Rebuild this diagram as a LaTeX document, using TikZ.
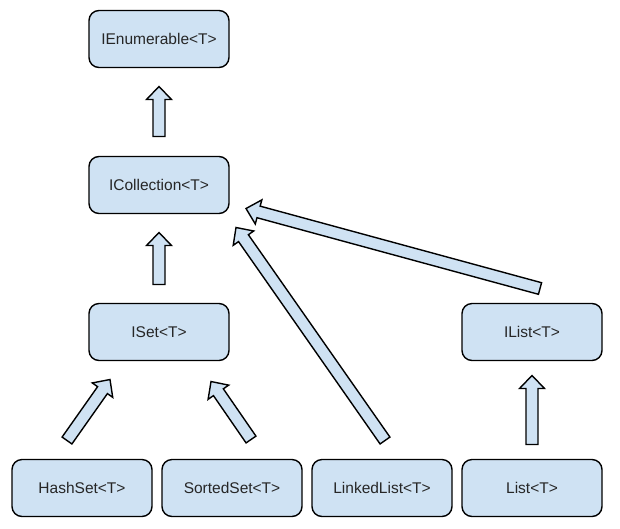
\documentclass[tikz,border=0pt]{standalone}
\usepackage{fontspec}
\setmainfont{Liberation Sans}
\usetikzlibrary{positioning, calc}

\definecolor{boxblue}{HTML}{CFE2F3}

% hollow block arrow from #1 to #2 (named coordinates)
\newcommand{\inheritarrow}[2]{%
  \path let \p1=($(#2)-(#1)$) in
    \pgfextra{\pgfmathsetmacro\arrang{atan2(\y1,\x1)}%
              \pgfmathsetmacro\arrlen{veclen(\x1,\y1)}%
              \global\let\arrang\arrang \global\let\arrlen\arrlen};
  \draw[arr, shift={(#1)}, rotate=\arrang]
    (0pt,-6pt) -- ({\arrlen pt-13pt},-6pt) -- ({\arrlen pt-13pt},-12.5pt)
    -- ({\arrlen pt},0pt) -- ({\arrlen pt-13pt},12.5pt) -- ({\arrlen pt-13pt},6pt)
    -- (0pt,6pt) -- cycle;
}

\begin{document}
\begin{tikzpicture}[
  font=\fontsize{15.5}{18}\selectfont,
  cls/.style={draw=black, line width=1.4pt, rounded corners=10pt, fill=boxblue, text=black!85,
    minimum width=140pt, minimum height=57pt, inner sep=0pt, outer sep=0pt},
  arr/.style={draw=black, line width=1.4pt, fill=boxblue, line join=miter},
]
\useasboundingbox (0pt,0pt) rectangle (620pt,-528pt);
\node[cls] (ienum) at (159pt,-39pt) {IEnumerable<T>};
\node[cls, below=89pt of ienum] (icoll) {ICollection<T>};
\node[cls, below=90pt of icoll] (iset) {ISet<T>};
\node[cls, below=99pt of iset, xshift=-77pt] (hashset) {HashSet<T>};
\node[cls, right=10pt of hashset] (sortedset) {SortedSet<T>};
\node[cls, right=10pt of sortedset] (linkedlist) {LinkedList<T>};
\node[cls, right=10pt of linkedlist] (list) {List<T>};
\node[cls, above=99pt of list] (ilist) {IList<T>};

% arrow ends, kept clear of the boxes
\coordinate (a1) at ($(icoll.north)+(0pt,20pt)$);
\coordinate (b1) at ($(ienum.south)+(0pt,-19pt)$);
\coordinate (a2) at ($(iset.north)+(0pt,19pt)$);
\coordinate (b2) at ($(icoll.south)+(0pt,-19pt)$);
\coordinate (a3) at ($(hashset.north)+(-15pt,19pt)$);
\coordinate (b3) at ($(iset.south)+(-49pt,-19pt)$);
\coordinate (a4) at ($(sortedset.north)+(19pt,20pt)$);
\coordinate (b4) at ($(iset.south)+(52pt,-21pt)$);
\coordinate (a5) at ($(linkedlist.north)+(3pt,19pt)$);
\coordinate (b5) at ($(icoll.south east)+(7pt,-14pt)$);
\coordinate (a6) at ($(ilist.north)+(8pt,15pt)$);
\coordinate (b6) at ($(icoll.east)+(17pt,-23.5pt)$);
\coordinate (a7) at ($(list.north)+(0pt,15pt)$);
\coordinate (b7) at ($(ilist.south)+(0pt,-15pt)$);

\inheritarrow{a1}{b1}
\inheritarrow{a2}{b2}
\inheritarrow{a3}{b3}
\inheritarrow{a4}{b4}
\inheritarrow{a5}{b5}
\inheritarrow{a6}{b6}
\inheritarrow{a7}{b7}
\end{tikzpicture}
\end{document}
